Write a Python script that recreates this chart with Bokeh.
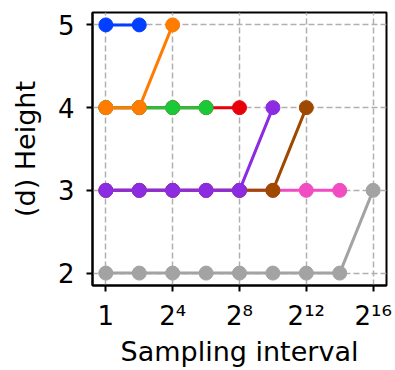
from bokeh.plotting import figure
from bokeh.models import FixedTicker, Range1d
from bokeh.embed import file_html
from bokeh.resources import INLINE

# Tree height reached for each sampling interval, one series per setting
blue_x = [1, 4]
blue_h = [5, 5]
orange_x = [1, 4, 16]
orange_h = [4, 4, 5]
green_x = [1, 4, 16, 64]
green_h = [4, 4, 4, 4]
red_x = [1, 4, 16, 64, 256]
red_h = [4, 4, 4, 4, 4]
purple_x = [1, 4, 16, 64, 256, 1024]
purple_h = [3, 3, 3, 3, 3, 4]
brown_x = [1, 4, 16, 64, 256, 1024, 4096]
brown_h = [3, 3, 3, 3, 3, 3, 4]
pink_x = [1, 4, 16, 64, 256, 1024, 4096, 16384]
pink_h = [3, 3, 3, 3, 3, 3, 3, 3]
gray_x = [1, 4, 16, 64, 256, 1024, 4096, 16384, 65536]
gray_h = [2, 2, 2, 2, 2, 2, 2, 2, 3]

x_ticks = [1, 16, 256, 4096, 65536]
x_tick_labels = ["1", "2\u2074", "2\u2078", "2\u00b9\u00b2", "2\u00b9\u2076"]
y_ticks = [2, 3, 4, 5]

series = [
    (blue_x, blue_h, "#023eff"),
    (orange_x, orange_h, "#ff7c00"),
    (green_x, green_h, "#1ac938"),
    (red_x, red_h, "#e8000b"),
    (purple_x, purple_h, "#8b2be2"),
    (brown_x, brown_h, "#9f4800"),
    (pink_x, pink_h, "#f14cc1"),
    (gray_x, gray_h, "#a3a3a3"),
]

p = figure(
    width=395, height=370,
    x_axis_type="log",
    x_range=Range1d(2 ** -0.8, 2 ** 16.8),
    y_range=Range1d(1.85, 5.15),
    output_backend="svg",
    toolbar_location=None,
    min_border_left=92, min_border_right=9,
    min_border_top=12, min_border_bottom=85,
)

p.background_fill_color = "white"
p.border_fill_color = "white"
p.outline_line_color = "black"
p.outline_line_width = 2
p.outline_line_alpha = 1

# earlier series sit on top, so draw in reverse
for xs, hs, col in reversed(series):
    p.line(xs, hs, line_color=col, line_width=3)
    p.scatter(xs, hs, size=14, fill_color=col, line_color=col)

p.xaxis.ticker = FixedTicker(ticks=x_ticks)
p.xaxis.major_label_overrides = dict(zip(x_ticks, x_tick_labels))
p.yaxis.ticker = FixedTicker(ticks=y_ticks)

for ax in (p.xaxis, p.yaxis):
    ax.axis_line_color = "black"
    ax.axis_line_width = 2
    ax.major_tick_line_color = "black"
    ax.major_tick_line_width = 2
    ax.major_tick_out = 6
    ax.major_tick_in = 0
    ax.minor_tick_line_color = None
    ax.major_label_text_font = "DejaVu Sans"
    ax.major_label_text_font_size = "26px"
    ax.major_label_text_color = "black"
    ax.axis_label_text_font = "DejaVu Sans"
    ax.axis_label_text_font_size = "27px"
    ax.axis_label_text_font_style = "normal"
    ax.axis_label_text_color = "black"

p.xaxis.axis_label = "Sampling interval"
p.yaxis.axis_label = "(d) Height"
p.xaxis.major_label_standoff = 9
p.yaxis.major_label_standoff = 12
p.xaxis.axis_label_standoff = 2
p.yaxis.axis_label_standoff = 14

p.grid.grid_line_color = "#b0b0b0"
p.grid.grid_line_width = 1.5
p.grid.grid_line_dash = "6 3"

open("out.html", "w").write(file_html(p, INLINE))
